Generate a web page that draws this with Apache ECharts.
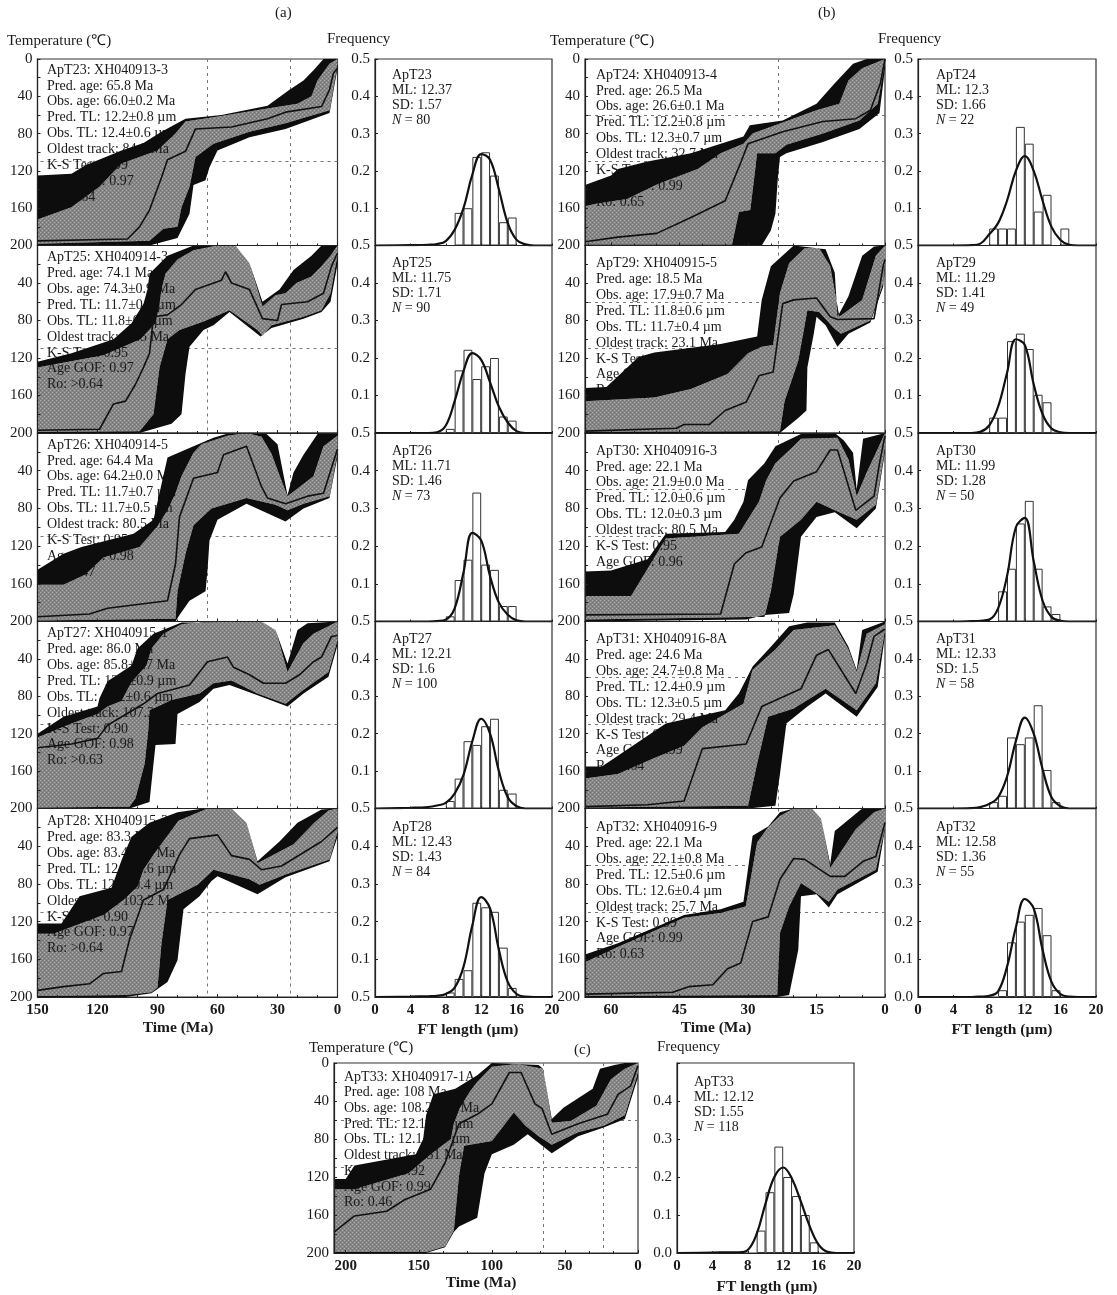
<!DOCTYPE html>
<html><head><meta charset="utf-8">
<style>html,body{margin:0;padding:0;background:#fff}#c{width:1117px;height:1295px;filter:blur(0.45px)}</style>
<script src="https://cdn.jsdelivr.net/npm/echarts@6/dist/echarts.min.js"></script>
</head><body><div id="c"></div>
<script>
// ---------- thermal history edges: [time Ma, temperature C] ----------
const T23_outerTop=[[150,125],[133,123],[126,114],[108,98],[97,90],[88,78],[76,64],[58,60],[35,50],[24,33],[17,23],[12,12],[7,0],[0,0]];
const T23_innerTop=[[150,172],[133,159],[119,137],[108,112],[90,98],[81,80],[76,67],[58,61],[35,53],[20,48],[13,40],[10,23],[4,5],[0,0]];
const T23_best=[[150,195],[105,193],[99,180],[94,162],[88,127],[85,108],[76,99],[71,75],[53,73],[35,64],[26,57],[8,51],[4,33],[2,15],[0,10]];
const T23_innerBot=[[150,198],[94,195],[87,182],[80,180],[78,159],[74,137],[71,105],[62,91],[44,78],[26,69],[4,55],[0,5]];
const T23_outerBot=[[150,200],[94,200],[80,192],[74,166],[72,135],[66,130],[64,116],[60,98],[44,84],[26,75],[4,58],[0,10]];

const T25_outerTop=[[150,124],[133,115],[112,100],[103,83],[97,62],[95,47],[94,30],[85,11],[72,0],[51,0],[44,19],[37.5,60],[29,47],[22,26],[13,11],[8,0],[0,0]];
const T25_innerTop=[[150,130],[117,117],[98.5,100],[91,83],[89,63],[88,47],[86,30],[80,15],[72,5],[60,0],[51,0],[44,19],[37.5,65],[31,53],[26,51],[20.5,40],[13,33],[8,22],[3.5,11],[0,0]];
const T25_best=[[150,197],[119,196],[112,169],[106,166],[101,148],[97,130],[94,115],[92,76],[85,74],[78,63],[71,47],[58,37],[56,28],[53,40],[44,47],[37.5,78],[30,80],[28,63],[15,60],[7,51],[3,22],[0,8]];
const T25_innerBot=[[150,199],[99,198],[92,180],[89,130],[85,100],[79,90],[67,81],[54,69],[40,90],[37.5,96],[33,85],[17,76],[8,69],[3.5,51],[0,10]];
const T25_outerBot=[[150,200],[99,200],[83,190],[78,180],[76,137],[74,108],[67,90],[62,85],[54,71],[38.5,97],[33,88],[17,78],[8,71],[3.5,60],[0,20]];

const T26_outerTop=[[150,145],[137,128],[128,121],[102,107],[92,92],[85,26],[72,14],[62,5],[54,0],[36,0],[30,12],[25,66],[22,42],[17,23],[10,1],[0,0]];
const T26_innerTop=[[150,161],[137,161],[126,150],[117,132],[99,121],[90,99],[85,82],[81,64],[78,46],[72,21],[68,12],[55,3],[45.5,0],[38,4],[33,22],[29,45],[25,67],[12,46],[7,14],[0,3]];
const T26_best=[[150,195],[124,192],[115,186],[85,178],[81,139],[79,89],[72,48],[60,42],[57,23],[45.5,14],[38,57],[35,69],[26,75],[15,67],[7,64],[0,17]];
const T26_innerBot=[[150,199],[81,197],[80,168],[76,128],[72,98],[63,80],[45.5,69],[31,76],[25,82],[17,75],[4,67],[0,20]];
const T26_outerBot=[[150,200],[81,200],[79,193],[74,178],[66,168],[65,146],[64,114],[60,92],[45.5,75],[26,94],[17,80],[4,69],[0,25]];

const T27_outerTop=[[150,120],[137,102],[120,91],[119,82],[115,64],[103,47],[100,29],[92,13],[78,1],[38,0],[31,9],[25,45],[20,9],[15,2],[0,0]];
const T27_innerTop=[[150,124],[133,109],[120,99],[115,91],[108,85],[103,65],[95.5,47],[93,29],[87,13],[78,3],[65,0],[38,0],[31,9],[25,54],[17,23],[12,13],[4.5,5],[0,0]];
const T27_best=[[150,135],[133,131],[120,125],[115,111],[97,88],[90,77],[74,68],[65,43],[55,38],[52,49],[44,57],[37,66],[26,66],[19,57],[12,43],[8,38],[3,16],[0,15]];
const T27_innerBot=[[150,199],[104,198],[101,189],[96.4,152],[94.6,116],[94,95],[83,84],[69,77],[62,66],[53,63],[40,77],[26,88],[17,73],[4.5,54],[0,20]];
const T27_outerBot=[[150,200],[104,200],[94,193],[92,152],[91,132],[81,131],[80,99],[69,86],[62,72],[54,68],[40,79],[25,91],[17,77],[4.5,59],[0,25]];

const T28_outerTop=[[150,122],[138,122],[129,93],[113,84],[108,55],[103,30],[94,15],[80,4],[67,0],[53,0],[45.5,15],[40,56],[29,35],[20,15],[8,1],[0,0]];
const T28_innerTop=[[150,133],[142,133],[117,113],[107,97],[100,83],[97,65],[92,49],[85,29],[79.5,13],[65,0],[53,0],[45.5,15],[40,58],[22,38],[11.6,15],[4.5,2],[0,0]];
const T28_best=[[150,193],[137,189],[124,186],[117,175],[108,173],[104,139],[97,97],[87,86],[79,49],[74,32],[60,28],[53,50],[44,54],[38,65],[28,61],[8,35],[0,20]];
const T28_innerBot=[[150,199],[106,198],[93,195],[90,190],[88,143],[85,97],[70,81],[62,65],[44,75],[39,81],[26,70],[4,54],[0,25]];
const T28_outerBot=[[150,200],[106,200],[93,196],[85,184],[80,161],[77,107],[69,93],[63,77],[60,72],[40,91],[26,73],[4,56],[0,30]];

const T24_outerTop=[[65.7,135],[60,125],[58.5,118],[52,110],[42.5,101],[31,83],[29.6,71],[22.4,66],[15,48],[11,26],[7,5],[4,0],[0,0]];
const T24_innerTop=[[65.7,158],[63,155],[56.5,150],[49.7,134],[41,118],[36,101],[31,91],[29,80],[15,55],[10,48],[8,23],[5,10],[0,0]];
const T24_best=[[65.7,196],[58.5,191],[50,187],[42.5,170],[35,152],[32,116],[30,91],[22.4,78],[13.6,67],[6.4,64],[3.2,55],[1,26],[0,0]];
const T24_innerBot=[[65.7,199],[33.5,199],[32,164],[29.5,162],[28,101],[24,101],[21.6,92],[13.6,80],[5.6,66],[1.6,48],[0,3]];
const T24_outerBot=[[65.7,200],[33.5,200],[27,200],[25,184],[24,166],[23.5,130],[23,105],[21.6,101],[13.6,89],[5.6,75],[1.2,58],[0,10]];

const T29_outerTop=[[65.7,152],[61,151],[54,119],[50.5,114],[36,105],[28,97],[27,58],[25,22],[20,0],[13,4],[11,29],[10.4,76],[8,54],[5,11],[2.4,1],[0,0]];
const T29_innerTop=[[65.7,166],[50.5,162],[42.5,153],[34.5,137],[30,115],[27,108],[24.5,106],[23,51],[21,19],[17.6,3],[14.4,3],[12,22],[10,76],[5,58],[2,11],[0,0]];
const T29_best=[[65.7,198],[45.7,195],[44,191],[38.5,191],[35,176],[30.4,167],[27.6,139],[24.5,135],[22.4,62],[20,58],[15,56],[12,76],[10.4,79],[2.4,78],[0.4,22],[0,15]];
const T29_innerBot=[[65.7,199],[23,198],[22,166],[19,123],[17,69],[14.4,71],[11,89],[9.6,94],[3.2,80],[0.4,40],[0,20]];
const T29_outerBot=[[65.7,200],[23,200],[19,184],[17.2,176],[17,130],[15.6,94],[15,76],[13,85],[10.4,108],[8,94],[3.2,82],[0.4,44],[0,25]];

const T30_outerTop=[[65.7,147],[60,146],[52,134],[48,107],[35,105],[33,92],[31,73],[30,50],[26.4,32],[24,14],[18.4,1],[11,0],[9,8],[7,21],[6.2,60],[4.8,6],[0,0]];
const T30_innerTop=[[65.7,173],[55.6,173],[50,128],[48,112],[32,107],[27.6,73],[26,50],[24,32],[20,14],[18.4,6],[10.4,5],[8,28],[6.2,67],[4,42],[1.6,17],[0,0]];
const T30_best=[[65.7,193],[36,192],[33,139],[30.4,127],[27,121],[23,69],[20,51],[15,41],[12,18],[10.4,18],[6.4,82],[2.4,67],[1.2,32],[0,3]];
const T30_innerBot=[[65.7,198],[26.4,195],[25,168],[23,110],[18.4,92],[15,73],[11,82],[6.2,92],[2,76],[0,15]];
const T30_outerBot=[[65.7,200],[30.4,198],[26.4,193],[21,191],[20,171],[18.4,110],[15,89],[11,84],[6.2,101],[2,80],[0,20]];

const T31_outerTop=[[65.7,155],[62,155],[48,109],[35,95],[32,77],[29,48],[25,27],[21,5],[17,1],[11,1],[8,27],[6.2,52],[5,9],[0,0]];
const T31_innerTop=[[65.7,168],[58.5,163],[51,147],[44,133],[40,113],[36,102],[31,88],[29,52],[24,30],[20,9],[11,4],[8,30],[6.2,54],[4,13],[0,3]];
const T31_best=[[65.7,198],[52,196],[44,192],[40,136],[30.4,131],[27,91],[23,82],[18.4,72],[15,36],[12.4,30],[6.4,77],[4,45],[2.4,16],[0,8]];
const T31_innerBot=[[65.7,199],[30,197],[28,152],[25.6,102],[20,93],[13,72],[6.2,95],[2,66],[0,10]];
const T31_outerBot=[[65.7,200],[30,200],[24,197],[23,163],[21.6,109],[17,91],[13,77],[6.2,102],[1.6,70],[0,15]];

const T32_outerTop=[[65.7,155],[58.5,143],[44,113],[36,107],[31,99],[29,29],[25.6,19],[23,4],[20,0],[16,0],[14,11],[12,59],[11,24],[5,0],[0,0]];
const T32_innerTop=[[65.7,163],[58.5,147],[44,116],[36,111],[30.5,104],[28,36],[25.6,20],[23,8],[20,0],[16,0],[14,11],[12,63],[6.4,22],[2.4,4],[0,0]];
const T32_best=[[65.7,197],[46.5,195],[43,189],[37.7,187],[34.5,170],[31.6,164],[29,120],[25.6,115],[23,75],[20,53],[17.6,54],[12,72],[8.8,72],[4.8,56],[2,51],[0,15]];
const T32_innerBot=[[65.7,199],[23.6,198],[23,132],[21,104],[18.4,79],[15,90],[12.3,99],[10.4,86],[2,65],[0,20]];
const T32_outerBot=[[65.7,200],[23.6,200],[21,198],[19,150],[18.4,93],[15,91],[12.3,105],[10.4,91],[1.6,67],[0,22]];

const T33_outerTop=[[208,122],[200,122],[194,108],[152,96],[147,80],[145,55],[140,33],[125,27],[110,13],[100,0],[68,2],[65,6],[59,59],[51,47],[31,27],[26,6],[16,2],[9,0],[0,0]];
const T33_innerTop=[[208,133],[194,133],[157,116],[140,94],[128,80],[126,64],[122,48],[115,30],[110,20],[100,4],[83,1],[65,6],[59,63],[46,61],[28.5,45],[18.5,17],[9,6],[0,0]];
const T33_best=[[208,178],[194,161],[172,156],[159.7,144],[142,133],[132,105],[122.5,64],[110,54],[100,43],[88,10],[80,10],[70.5,43],[65.6,48],[59,75],[41,64],[21,54],[13.6,33],[5,24],[0,3]];
const T33_innerBot=[[208,199],[145,199],[132,193],[126,176],[122.5,119],[119,87],[100,82],[85,52],[77,66],[68,77],[59,86],[41,73],[23.5,66],[9,55],[0,10]];
const T33_outerBot=[[208,200],[145,200],[132,194],[126,178],[122.5,172],[110,163],[105,116],[100,96],[85,86],[75.5,75],[59,95],[41,77],[23.5,68],[9,59],[0,15]];

// ---------- track length histograms: first bin's left edge and frequency per 1 um bin ----------
const H23_start=9,  H23_freq=[.0875,.1,.2375,.25,.1875,.0625,.075];
const H25_start=8,  H25_freq=[.011,.167,.222,.144,.178,.2,.044,.033];
const H26_start=8,  H26_freq=[.0137,.11,.164,.342,.151,.137,.041,.041];
const H27_start=8,  H27_freq=[.02,.08,.18,.17,.22,.24,.05,.04];
const H28_start=8,  H28_freq=[.012,.048,.071,.25,.238,.226,.131,.024];
const H24_start=8,  H24_freq=[.0455,.0455,.0455,.318,.273,.091,.136,0,.0455];
const H29_start=8,  H29_freq=[.041,.041,.245,.265,.224,.102,.082];
const H30_start=9,  H30_freq=[.08,.14,.26,.32,.14,.04,.02];
const H31_start=8,  H31_freq=[.017,.034,.19,.172,.19,.276,.103,.017];
const H32_start=9,  H32_freq=[.018,.145,.2,.218,.236,.164,.018];
const H33_start=9,  H33_freq=[.059,.16,.28,.2,.15,.1,.028];

// fitted curve sampled at these lengths
const curveX=[0,4,6,7,8,9,10,11,12,13,14,15,16,17,18,20];
const C23=[0,.001,.002,.004,.012,.042,.1,.19,.245,.23,.15,.06,.015,.003,0,0];
const C25=[0,0,0,.002,.02,.085,.165,.213,.195,.135,.07,.028,.005,0,0,0];
const C26=[0,0,0,.001,.005,.035,.13,.235,.215,.12,.05,.018,.003,0,0,0];
const C27=[0,.002,.004,.008,.015,.04,.09,.18,.24,.2,.1,.03,.006,0,0,0];
const C28=[0,.001,.002,.003,.008,.025,.08,.19,.265,.235,.125,.04,.008,.001,0,0];
const C24=[0,0,.001,.005,.03,.06,.12,.2,.24,.2,.12,.05,.015,.002,0,0];
const C29=[0,0,0,.003,.02,.07,.16,.25,.235,.13,.05,.012,.002,0,0,0];
const C30=[0,0,.001,.002,.005,.035,.12,.25,.275,.16,.055,.012,.002,0,0,0];
const C31=[0,0,.001,.004,.012,.03,.085,.18,.243,.2,.105,.03,.006,0,0,0];
const C32=[0,0,0,.001,.003,.015,.08,.185,.26,.235,.125,.04,.008,.001,0,0];
const C33=[0,.001,.002,.002,.008,.05,.13,.2,.225,.195,.135,.07,.022,.003,0,0];

// ---------- annotations ----------
const L23=["ApT23: XH040913-3","Pred. age: 65.8 Ma","Obs. age: 66.0±0.2 Ma","Pred. TL: 12.2±0.8 µm","Obs. TL: 12.4±0.6 µm","Oldest track: 84.0 Ma","K-S Test: 0.99","Age GOF: 0.97","Ro: 0.64"];
const L25=["ApT25: XH040914-3","Pred. age: 74.1 Ma","Obs. age: 74.3±0.9 Ma","Pred. TL: 11.7±0.8 µm","Obs. TL: 11.8±0.7 µm","Oldest track: 92.5 Ma","K-S Test: 0.95","Age GOF: 0.97","Ro: >0.64"];
const L26=["ApT26: XH040914-5","Pred. age: 64.4 Ma","Obs. age: 64.2±0.0 Ma","Pred. TL: 11.7±0.7 µm","Obs. TL: 11.7±0.5 µm","Oldest track: 80.5 Ma","K-S Test: 0.95","Age GOF: 0.98","Ro: 0.47"];
const L27=["ApT27: XH040915-1","Pred. age: 86.0 Ma","Obs. age: 85.8±0.7 Ma","Pred. TL: 12.2±0.9 µm","Obs. TL: 12.2±0.6 µm","Oldest track: 107.3 Ma","K-S Test: 0.90","Age GOF: 0.98","Ro: >0.63"];
const L28=["ApT28: XH040915-3","Pred. age: 83.3 Ma","Obs. age: 83.4±0.5 Ma","Pred. TL: 12.4±0.6 µm","Obs. TL: 12.4±0.4 µm","Oldest track: 103.2 Ma","K-S Test: 0.90","Age GOF: 0.97","Ro: >0.64"];
const L24=["ApT24: XH040913-4","Pred. age: 26.5 Ma","Obs. age: 26.6±0.1 Ma","Pred. TL: 12.2±0.8 µm","Obs. TL: 12.3±0.7 µm","Oldest track: 32.7 Ma","K-S Test: 0.96","Age GOF: 0.99","Ro: 0.65"];
const L29=["ApT29: XH040915-5","Pred. age: 18.5 Ma","Obs. age: 17.9±0.7 Ma","Pred. TL: 11.8±0.6 µm","Obs. TL: 11.7±0.4 µm","Oldest track: 23.1 Ma","K-S Test: 0.95","Age GOF: 0.97","Ro: 0.63"];
const L30=["ApT30: XH040916-3","Pred. age: 22.1 Ma","Obs. age: 21.9±0.0 Ma","Pred. TL: 12.0±0.6 µm","Obs. TL: 12.0±0.3 µm","Oldest track: 80.5 Ma","K-S Test: 0.95","Age GOF: 0.96"];
const L31=["ApT31: XH040916-8A","Pred. age: 24.6 Ma","Obs. age: 24.7±0.8 Ma","Pred. TL: 12.4±0.9 µm","Obs. TL: 12.3±0.5 µm","Oldest track: 29.4 Ma","K-S Test: 0.99","Age GOF: 0.99","Ro: 0.64"];
const L32=["ApT32: XH040916-9","Pred. age: 22.1 Ma","Obs. age: 22.1±0.8 Ma","Pred. TL: 12.5±0.6 µm","Obs. TL: 12.6±0.4 µm","Oldest track: 25.7 Ma","K-S Test: 0.99","Age GOF: 0.99","Ro: 0.63"];
const L33=["ApT33: XH040917-1A","Pred. age: 108 Ma","Obs. age: 108.2±0.7 Ma","Pred. TL: 12.1±0.7 µm","Obs. TL: 12.1±0.6 µm","Oldest track: 131 Ma","K-S Test: 0.92","Age GOF: 0.99","Ro: 0.46"];
const S23=["ML: 12.37","SD: 1.57","80"], S25=["ML: 11.75","SD: 1.71","90"], S26=["ML: 11.71","SD: 1.46","73"], S27=["ML: 12.21","SD: 1.6","100"], S28=["ML: 12.43","SD: 1.43","84"];
const S24=["ML: 12.3","SD: 1.66","22"], S29=["ML: 11.29","SD: 1.41","49"], S30=["ML: 11.99","SD: 1.28","50"], S31=["ML: 12.33","SD: 1.5","58"], S32=["ML: 12.58","SD: 1.36","55"], S33=["ML: 12.12","SD: 1.55","118"];

const timeTicksA=30, timeTicksB=15, timeTicksC=50;
const refLinesT=[60,110];

// ---------- layout (pixels) ----------
const rowTop=[59,245.5,433,621.5,808.5,997];
const cols={
 a:{tL:37.5,tW:300,hL:375,hW:177,xMax:150,xInt:timeTicksA,textX:47,histX:392,vLines:[65,23.5],hLines:[110]},
 b:{tL:585,tW:300,hL:918,hW:178,xMax:65.7,xInt:timeTicksB,textX:596,histX:936,vLines:[23.3],hLines:refLinesT},
 c:{tL:334,tW:304,hL:677,hW:177,xMax:208,xInt:timeTicksC,textX:344,histX:694,vLines:[65,23.5],hLines:refLinesT}
};
const mk=(id,col,row,tOff,sOff,e,l,h0,hf,cv,s,bottom)=>({id,col,row,tOff,sOff,e,l,h0,hf,cv,s,bottom});
const panels=[
 mk('ApT23','a',0,11,16,[T23_outerTop,T23_innerTop,T23_best,T23_innerBot,T23_outerBot],L23,H23_start,H23_freq,C23,S23,'0.5'),
 mk('ApT25','a',1,12,18,[T25_outerTop,T25_innerTop,T25_best,T25_innerBot,T25_outerBot],L25,H25_start,H25_freq,C25,S25,'0.5'),
 mk('ApT26','a',2,12,18,[T26_outerTop,T26_innerTop,T26_best,T26_innerBot,T26_outerBot],L26,H26_start,H26_freq,C26,S26,'0.5'),
 mk('ApT27','a',3,12,18,[T27_outerTop,T27_innerTop,T27_best,T27_innerBot,T27_outerBot],L27,H27_start,H27_freq,C27,S27,'0.5'),
 mk('ApT28','a',4,13,19,[T28_outerTop,T28_innerTop,T28_best,T28_innerBot,T28_outerBot],L28,H28_start,H28_freq,C28,S28,'0.5'),
 mk('ApT24','b',0,16,16,[T24_outerTop,T24_innerTop,T24_best,T24_innerBot,T24_outerBot],L24,H24_start,H24_freq,C24,S24,'0.5'),
 mk('ApT29','b',1,18,18,[T29_outerTop,T29_innerTop,T29_best,T29_innerBot,T29_outerBot],L29,H29_start,H29_freq,C29,S29,'0.5'),
 mk('ApT30','b',2,18,18,[T30_outerTop,T30_innerTop,T30_best,T30_innerBot,T30_outerBot],L30,H30_start,H30_freq,C30,S30,'0.5'),
 mk('ApT31','b',3,18,18,[T31_outerTop,T31_innerTop,T31_best,T31_innerBot,T31_outerBot],L31,H31_start,H31_freq,C31,S31,'0.5'),
 mk('ApT32','b',4,19,19,[T32_outerTop,T32_innerTop,T32_best,T32_innerBot,T32_outerBot],L32,H32_start,H32_freq,C32,S32,'0.0'),
 mk('ApT33','c',5,14,19,[T33_outerTop,T33_innerTop,T33_best,T33_innerBot,T33_outerBot],L33,H33_start,H33_freq,C33,S33,'0.0')
];

// stippled grey fill
const pat=document.createElement('canvas');pat.width=4;pat.height=4;
(function(){const g=pat.getContext('2d');g.fillStyle='#858585';g.fillRect(0,0,4,4);
 g.fillStyle='#b0b0b0';[[0,0],[2,2]].forEach(p=>g.fillRect(p[0],p[1],1,1));
 g.fillStyle='#707070';[[2,0],[0,2]].forEach(p=>g.fillRect(p[0],p[1],1,1));})();
const greyFill={image:pat,repeat:'repeat'};

const font='"Liberation Serif","Times New Roman",serif', ink='#1a1a1a';
const grid=[],xAxis=[],yAxis=[],series=[],gfx=[];

function poly(gi,upper,lower,fill,z,extra){
 const pts=upper.concat(lower.slice().reverse());
 series.push(Object.assign({type:'custom',xAxisIndex:gi,yAxisIndex:gi,z,silent:true,clip:true,animation:false,
  encode:{x:0,y:1},data:pts,
  renderItem(p,api){ if(p.dataIndex!==0) return null;
   return {type:'polygon',shape:{points:pts.map(q=>api.coord(q))},style:{fill,stroke:null}}; }},extra||{}));
}

panels.forEach(p=>{
 const c=cols[p.col], top=p.col==='c'?1063:rowTop[p.row], h=p.col==='c'?190:rowTop[p.row+1]-rowTop[p.row];
 const isBottom=p.row>=4, isTop=p.row===0||p.col==='c';
 const tg=grid.length, hg=tg+1;
 const axisLine={show:true,onZero:false,lineStyle:{color:'#222',width:1.2}};
 const labelS={fontFamily:font,fontSize:15,color:ink,margin:5};
 grid.push({left:c.tL,top,width:c.tW,height:h,show:true,borderColor:'#333',borderWidth:1.2,backgroundColor:'#fff',containLabel:false});
 grid.push({left:c.hL,top,width:c.hW,height:h,show:true,borderColor:'#333',borderWidth:1.2,backgroundColor:'#fff',containLabel:false});
 const inv=c.xInt;
 xAxis.push({gridIndex:tg,type:'value',min:0,max:c.xMax,interval:c.xInt,inverse:true,position:'bottom',z:20,axisLine,
  axisTick:{show:true,inside:true,length:3,lineStyle:{color:'#222'}},minorTick:{show:true,splitNumber:3,length:2,lineStyle:{color:'#222'}},splitLine:{show:false},
  axisLabel:{show:isBottom,...labelS,fontWeight:'bold',margin:6,hideOverlap:false,showMinLabel:true,showMaxLabel:true,formatter:v=>(v%inv===0?String(v):'')}});
 yAxis.push({gridIndex:tg,type:'value',min:0,max:200,interval:40,inverse:true,position:'left',z:20,axisLine,
  axisTick:{show:true,inside:true,length:3,lineStyle:{color:'#222'}},minorTick:{show:true,splitNumber:2,length:3,lineStyle:{color:'#222'}},splitLine:{show:false},
  axisLabel:{...labelS,showMinLabel:true,showMaxLabel:true,formatter:v=>(v===0?(isTop?'0':''):String(v))}});
 xAxis.push({gridIndex:hg,type:'value',min:0,max:20,interval:4,position:'bottom',z:20,axisLine,
  axisTick:{show:true,inside:true,length:2,lineStyle:{color:'#222'}},splitLine:{show:false},
  axisLabel:{show:isBottom,...labelS,fontWeight:'bold',margin:6,showMinLabel:true,showMaxLabel:true}});
 yAxis.push({gridIndex:hg,type:'value',min:0,max:.5,interval:.1,position:'left',z:20,axisLine,
  axisTick:{show:true,inside:true,length:3,lineStyle:{color:'#222'}},splitLine:{show:false},
  axisLabel:{...labelS,showMinLabel:true,showMaxLabel:true,formatter:v=>(v===0?p.bottom:(v>=.5?(isTop&&p.col!=='c'?'0.5':''):v.toFixed(1)))}});

 const [oT,iT,best,iB,oB]=p.e;
 poly(tg,iT,iB,greyFill,2,{markLine:{silent:true,symbol:'none',z:1,animation:false,label:{show:false},
   lineStyle:{color:'#777',type:[3,4],width:1},
   data:c.vLines.map(v=>({xAxis:v})).concat(c.hLines.map(v=>({yAxis:v})))}});
 poly(tg,oT,iT,'#0d0d0d',6);
 poly(tg,iB,oB,'#0d0d0d',6);
 series.push({type:'line',xAxisIndex:tg,yAxisIndex:tg,data:best,z:8,showSymbol:false,silent:true,animation:false,lineStyle:{color:'#111',width:1.6}});

 // bars centred on their 1 um bin
 series.push({type:'bar',xAxisIndex:hg,yAxisIndex:hg,z:2,silent:true,animation:false,barWidth:c.hW/20,
   data:p.hf.map((f,i)=>[p.h0+i+.5,f]),itemStyle:{color:'#fff',borderColor:'#333',borderWidth:1}});
 series.push({type:'line',xAxisIndex:hg,yAxisIndex:hg,z:8,smooth:.4,showSymbol:false,silent:true,animation:false,
   data:curveX.map((x,i)=>[x,p.cv[i]]),lineStyle:{color:'#111',width:2.2}});

 // notes: grey bands let them show through, black bands hide them
 const lineGap=p.col==='c'?15.7:15.9;
 p.l.forEach((t,i)=>gfx.push({type:'text',x:c.textX,y:top+p.tOff+i*lineGap,z:4,silent:true,
   style:{text:t,font:'14px '+font,fill:ink,verticalAlign:'middle',align:'left'}}));
 const sx=c.histX, sy=top+p.sOff;
 [p.id,p.s[0],p.s[1]].forEach((t,i)=>gfx.push({type:'text',x:sx,y:sy+i*15,z:30,silent:true,
   style:{text:t,font:'14px '+font,fill:ink,verticalAlign:'middle',align:'left'}}));
 gfx.push({type:'text',x:sx,y:sy+45,z:30,silent:true,style:{text:'{i|N} = '+p.s[2],font:'14px '+font,fill:ink,verticalAlign:'middle',align:'left',
   rich:{i:{fontStyle:'italic',font:'italic 14px '+font,fill:ink}}}});
});

const head=[['(a)',275,13],['(b)',818,13],['(c)',574,1050],
 ['Temperature (℃)',7,41],['Frequency',327,39],['Temperature (℃)',550,41],['Frequency',878,39],
 ['Temperature (℃)',309,1048],['Frequency',657,1047]];
head.forEach(h=>gfx.push({type:'text',x:h[1],y:h[2],z:30,silent:true,style:{text:h[0],font:'15px '+font,fill:ink,verticalAlign:'middle',align:'left'}}));
const foot=[['Time (Ma)',178,1028],['FT length (µm)',468,1030],['Time (Ma)',716,1028],['FT length (µm)',1002,1030],['Time (Ma)',481,1283],['FT length (µm)',767,1287]];
foot.forEach(h=>gfx.push({type:'text',x:h[1],y:h[2],z:30,silent:true,style:{text:h[0],font:'bold 15.5px '+font,fill:ink,verticalAlign:'middle',align:'center'}}));

const chart=echarts.init(document.getElementById('c'),null,{renderer:'canvas',width:1117,height:1295});
chart.setOption({animation:false,backgroundColor:'#fff',grid,xAxis,yAxis,series,graphic:{elements:gfx}});
</script></body></html>
